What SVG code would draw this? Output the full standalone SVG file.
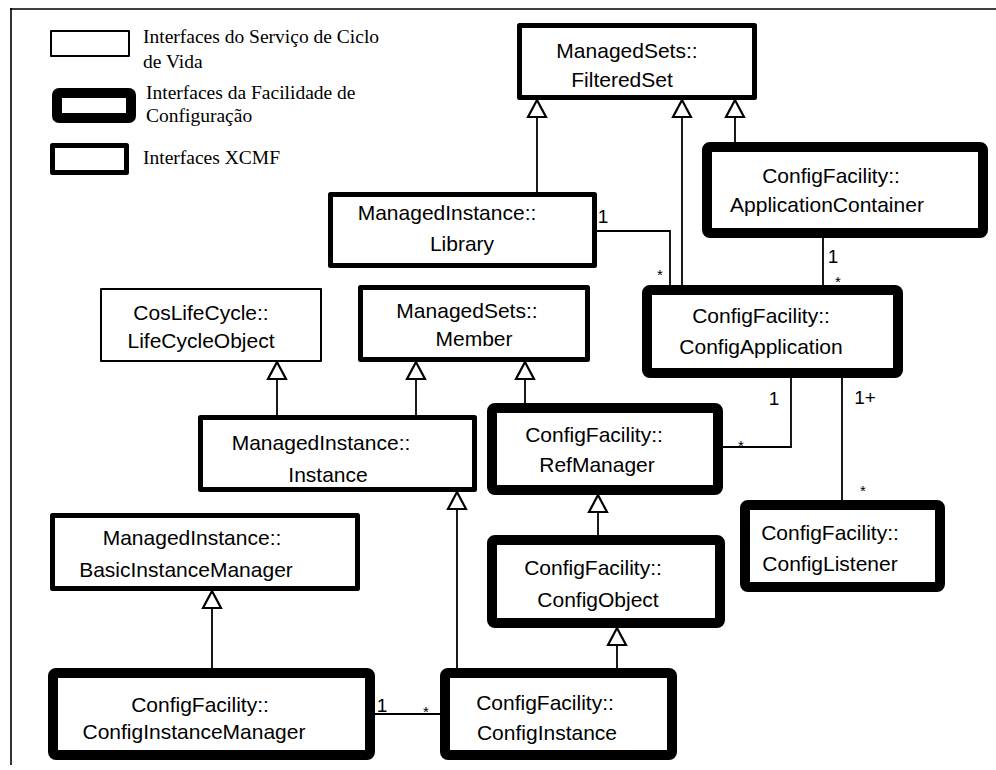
<svg xmlns="http://www.w3.org/2000/svg" width="996" height="770" viewBox="0 0 996 770">
<style>
.box{fill:#fff;stroke:#000;stroke-linejoin:round}
.thin{stroke-width:2}
.med{stroke-width:5}
.thick{stroke-width:10}
.t{font-family:"Liberation Sans",Arial,sans-serif;font-size:21px;fill:#000;text-anchor:middle}
.lg{font-family:"Liberation Serif","Times New Roman",serif;font-size:19.5px;fill:#000}
.lbl{font-family:"Liberation Sans",Arial,sans-serif;font-size:19px;fill:#000;text-anchor:middle}
.ast{font-family:"Liberation Sans",Arial,sans-serif;font-size:15px;fill:#000;text-anchor:middle}
.ln{fill:none;stroke:#000;stroke-width:1.8}
.tri{fill:#fff;stroke:#000;stroke-width:2.2;stroke-linejoin:miter}
</style>
<rect width="996" height="770" fill="#fff"/>
<g id="frame">
<line x1="11" y1="8" x2="11" y2="765" stroke="#000" stroke-width="1.6"/>
<line x1="10" y1="9" x2="996" y2="9" stroke="#000" stroke-width="1.6"/>
</g>
<g id="legend">
<rect class="box thin" x="51" y="31" width="78" height="25"/>
<text class="lg" x="143" y="43">Interfaces do Serviço de Ciclo</text>
<text class="lg" x="143" y="68">de Vida</text>
<rect class="box thick" x="57" y="93" width="74" height="25" rx="2"/>
<text class="lg" x="146" y="99">Interfaces da Facilidade de</text>
<text class="lg" x="146" y="122">Configuração</text>
<rect class="box med" x="52.5" y="145.5" width="74" height="27"/>
<text class="lg" x="143" y="164">Interfaces XCMF</text>
</g>
<g id="connectors">
<path class="ln" d="M537,117 V193"/>
<path class="tri" d="M537,100 L528,117 L546,117 Z"/>
<path class="ln" d="M682,117 V285"/>
<path class="tri" d="M682,100 L673,117 L691,117 Z"/>
<path class="ln" d="M735,117 V142"/>
<path class="tri" d="M735,100 L726,117 L744,117 Z"/>
<path class="ln" d="M596,231 H670 V285"/>
<path class="ln" d="M823,238 V285"/>
<path class="ln" d="M277,379 V415"/>
<path class="tri" d="M277,362 L268,379 L286,379 Z"/>
<path class="ln" d="M416,379 V415"/>
<path class="tri" d="M416,362 L407,379 L425,379 Z"/>
<path class="ln" d="M525,379 V403"/>
<path class="tri" d="M525,362 L516,379 L534,379 Z"/>
<path class="ln" d="M791,378 V447 H723"/>
<path class="ln" d="M842,378 V500"/>
<path class="ln" d="M457,509 V668"/>
<path class="tri" d="M457,492 L448,509 L466,509 Z"/>
<path class="ln" d="M598,512 V535"/>
<path class="tri" d="M598,495 L589,512 L607,512 Z"/>
<path class="ln" d="M617,645 V668"/>
<path class="tri" d="M617,628 L608,645 L626,645 Z"/>
<path class="ln" d="M212,608 V668"/>
<path class="tri" d="M212,591 L203,608 L221,608 Z"/>
<path class="ln" d="M375,714 H440"/>
<text class="lbl" x="603" y="223">1</text>
<text class="ast" x="660" y="280">*</text>
<text class="lbl" x="833" y="263">1</text>
<text class="ast" x="838" y="287">*</text>
<text class="lbl" x="774" y="405">1</text>
<text class="ast" x="741" y="451">*</text>
<text class="lbl" x="865" y="404">1+</text>
<text class="ast" x="863" y="496">*</text>
<text class="lbl" x="382" y="712">1</text>
<text class="ast" x="426" y="717">*</text>
</g>
<g id="filteredset">
<rect class="box med" x="519.5" y="25.5" width="235" height="72"/>
<text class="t" x="627" y="58">ManagedSets::</text>
<text class="t" x="622" y="87">FilteredSet</text>
</g>
<g id="applicationcontainer">
<rect class="box thick" x="707" y="147" width="276" height="86" rx="3"/>
<text class="t" x="831" y="183">ConfigFacility::</text>
<text class="t" x="827" y="212">ApplicationContainer</text>
</g>
<g id="library">
<rect class="box med" x="330.5" y="194.5" width="264" height="71"/>
<text class="t" x="447" y="220">ManagedInstance::</text>
<text class="t" x="462" y="251">Library</text>
</g>
<g id="configapplication">
<rect class="box thick" x="647" y="290" width="251" height="83" rx="3"/>
<text class="t" x="761" y="323">ConfigFacility::</text>
<text class="t" x="761" y="354">ConfigApplication</text>
</g>
<g id="lifecycleobject">
<rect class="box thin" x="101" y="289" width="220" height="72"/>
<text class="t" x="201" y="320">CosLifeCycle::</text>
<text class="t" x="201" y="348">LifeCycleObject</text>
</g>
<g id="member">
<rect class="box med" x="360.5" y="287.5" width="227" height="72"/>
<text class="t" x="467" y="318">ManagedSets::</text>
<text class="t" x="474" y="346">Member</text>
</g>
<g id="instance">
<rect class="box med" x="200.5" y="417.5" width="274" height="72"/>
<text class="t" x="321" y="450">ManagedInstance::</text>
<text class="t" x="328" y="482">Instance</text>
</g>
<g id="refmanager">
<rect class="box thick" x="492" y="408" width="226" height="82" rx="3"/>
<text class="t" x="594" y="442">ConfigFacility::</text>
<text class="t" x="597" y="472">RefManager</text>
</g>
<g id="configlistener">
<rect class="box thick" x="745" y="505" width="195" height="82" rx="3"/>
<text class="t" x="830" y="540">ConfigFacility::</text>
<text class="t" x="830" y="571">ConfigListener</text>
</g>
<g id="configobject">
<rect class="box thick" x="492" y="540" width="228" height="83" rx="3"/>
<text class="t" x="593" y="575">ConfigFacility::</text>
<text class="t" x="598" y="607">ConfigObject</text>
</g>
<g id="basicinstancemanager">
<rect class="box med" x="52.5" y="515.5" width="305" height="73"/>
<text class="t" x="192" y="545">ManagedInstance::</text>
<text class="t" x="186" y="577">BasicInstanceManager</text>
</g>
<g id="configinstancemanager">
<rect class="box thick" x="53" y="673" width="317" height="82" rx="3"/>
<text class="t" x="200" y="712">ConfigFacility::</text>
<text class="t" x="194" y="739">ConfigInstanceManager</text>
</g>
<g id="configinstance">
<rect class="box thick" x="445" y="673" width="227" height="82" rx="3"/>
<text class="t" x="545" y="710">ConfigFacility::</text>
<text class="t" x="547" y="740">ConfigInstance</text>
</g>
</svg>
